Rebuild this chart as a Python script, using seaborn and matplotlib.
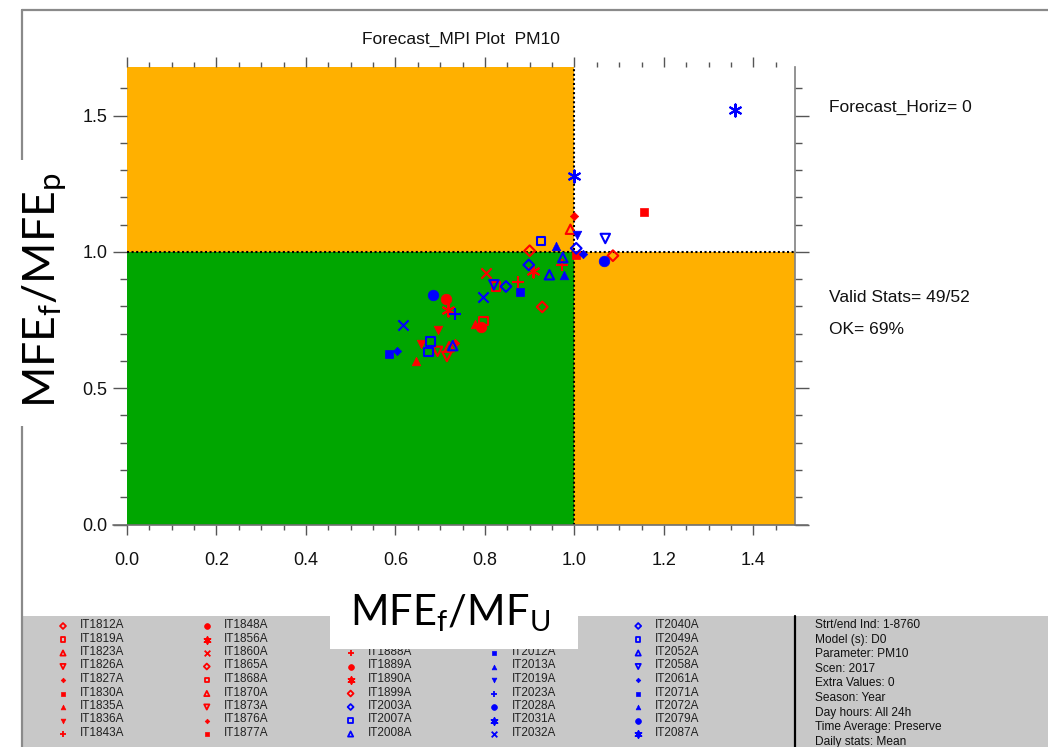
import numpy as np
import pandas as pd
import matplotlib
matplotlib.use("Agg")
import matplotlib.pyplot as plt
from matplotlib.ticker import MultipleLocator, FormatStrFormatter
from matplotlib.patches import Rectangle
from matplotlib.lines import Line2D
import seaborn as sns

# ---------------- data ----------------
TITLE = "Forecast_MPI Plot  PM10"
X_LABEL = r"$\mathrm{MFE_f/MF_U}$"
Y_LABEL = r"$\mathrm{MFE_f/MFE_p}$"
SIDE_TEXT = ["Forecast_Horiz= 0", "Valid Stats= 49/52", "OK= 69%"]

RED_X = [1.086, 0.900, 0.928, 0.825, 0.797, 0.991, 0.720, 0.694, 0.715,
         1.000, 0.732, 1.004, 1.155, 0.777, 0.645, 0.696, 0.658, 0.874,
         0.972, 0.714, 0.791, 0.907, 0.717, 0.802]
RED_Y = [0.986, 1.004, 0.798, 0.873, 0.747, 1.083, 0.652, 0.635, 0.616,
         1.133, 0.665, 0.989, 1.147, 0.735, 0.600, 0.715, 0.662, 0.891,
         0.952, 0.828, 0.725, 0.930, 0.787, 0.921]
RED_SYM = ["diamond_open"] * 3 + ["square_open"] * 2 + ["tri_open"] * 2 + \
          ["tridown_open"] * 2 + ["diamond"] * 2 + ["square"] * 2 + ["tri"] * 2 + \
          ["tridown"] * 2 + ["plus"] * 2 + ["circle"] * 2 + ["asterisk"] * 2 + ["x"]

BLUE_X = [1.004, 0.898, 0.847, 0.925, 0.678, 0.674, 0.974, 0.944, 0.728,
          1.069, 0.820, 1.020, 0.604, 0.878, 0.586, 0.958, 0.976, 1.006,
          0.732, 0.684, 1.067, 1.359, 1.000, 0.795, 0.616]
BLUE_Y = [1.013, 0.952, 0.873, 1.040, 0.671, 0.632, 0.979, 0.916, 0.656,
          1.049, 0.879, 0.993, 0.635, 0.852, 0.626, 1.022, 0.916, 1.062,
          0.771, 0.842, 0.968, 1.521, 1.277, 0.834, 0.731]
BLUE_SYM = ["diamond_open"] * 3 + ["square_open"] * 3 + ["tri_open"] * 3 + \
           ["tridown_open"] * 2 + ["diamond"] * 2 + ["square"] * 2 + ["tri"] * 2 + \
           ["tridown"] + ["plus"] + ["circle"] * 2 + ["asterisk"] * 2 + ["x"] * 2

# legend: column-major, 9 rows per column ('' = slot hidden under the x-label box)
LEG_NAMES = ["IT1812A", "IT1819A", "IT1823A", "IT1826A", "IT1827A", "IT1830A", "IT1835A", "IT1836A", "IT1843A",
             "IT1848A", "IT1856A", "IT1860A", "IT1865A", "IT1868A", "IT1870A", "IT1873A", "IT1876A", "IT1877A",
             "", "", "IT1888A", "IT1889A", "IT1890A", "IT1899A", "IT2003A", "IT2007A", "IT2008A",
             "", "", "IT2012A", "IT2013A", "IT2019A", "IT2023A", "IT2028A", "IT2031A", "IT2032A",
             "IT2040A", "IT2049A", "IT2052A", "IT2058A", "IT2061A", "IT2071A", "IT2072A", "IT2079A", "IT2087A"]
LEG_SYM = ["diamond_open", "square_open", "tri_open", "tridown_open", "diamond", "square", "tri", "tridown", "plus",
           "circle", "asterisk", "x", "diamond_open", "square_open", "tri_open", "tridown_open", "diamond", "square",
           "tri", "tridown", "plus", "circle", "asterisk", "diamond_open", "diamond_open", "square_open", "tri_open",
           "tridown_open", "diamond", "square", "tri", "tridown", "plus", "circle", "asterisk", "x",
           "diamond_open", "square_open", "tri_open", "tridown_open", "diamond", "square", "tri", "circle", "asterisk"]
LEG_GROUP = ["red"] * 24 + ["blue"] * 21

INFO = ["Strt/end Ind: 1-8760", "Model (s): D0", "Parameter: PM10", "Scen: 2017",
        "Extra Values: 0", "Season: Year", "Day hours: All 24h",
        "Time Average: Preserve", "Daily stats: Mean"]

# ---------------- style ----------------
COLORS = {"red": "#ff0000", "blue": "#0000ff"}
ORANGE = "#ffb000"
GREEN = "#00a600"
SYMBOLS = {  # marker, filled, size
    "diamond_open": ("D", False, 30),
    "square_open": ("s", False, 36),
    "tri_open": ("^", False, 46),
    "tridown_open": ("v", False, 46),
    "diamond": ("D", True, 18),
    "square": ("s", True, 28),
    "tri": ("^", True, 38),
    "tridown": ("v", True, 38),
    "plus": ("+", None, 64),
    "circle": ("o", True, 58),
    "asterisk": ((6, 2, 0), None, 75),
    "x": ("x", None, 55),
}

sns.set_theme(style="white")
plt.rcParams["font.family"] = ["Liberation Sans", "DejaVu Sans"]
plt.rcParams["mathtext.fontset"] = "custom"
plt.rcParams["mathtext.rm"] = "Lato"
plt.rcParams["mathtext.it"] = "Lato:italic"

W, H = 1048, 747
fig = plt.figure(figsize=(W / 100, H / 100), dpi=100)


def draw_symbols(ax, xs, ys, syms, color, scale=1.0, lw=1.5, z=4):
    df = pd.DataFrame({"x": xs, "y": ys, "sym": syms})
    for key, grp in df.groupby("sym", sort=False):
        marker, filled, size = SYMBOLS[key]
        kw = dict(marker=marker, s=size * scale, color=color, ax=ax, legend=False, zorder=z)
        if filled is True:
            kw.update(edgecolor=color, linewidth=0.5)
        elif filled is False:
            kw.update(facecolor="none", edgecolor=color, linewidth=lw)
        else:
            kw.update(linewidth=lw)
        sns.scatterplot(data=grp, x="x", y="y", **kw)


# ---------------- main axes ----------------
L, R, T, B = 127, 795, 67, 524.5
ax = fig.add_axes([L / W, 1 - B / H, (R - L) / W, (B - T) / H])
XMAX, YMAX = 1.493, 1.678
ax.add_patch(Rectangle((0, 0), 1, 1, color=GREEN, zorder=0, lw=0))
ax.add_patch(Rectangle((0, 1), 1, YMAX, color=ORANGE, zorder=0, lw=0))
ax.add_patch(Rectangle((1, 0), XMAX, 1, color=ORANGE, zorder=0, lw=0))
ax.axvline(1.0, color="black", ls=(0, (1, 1.2)), lw=1.5, zorder=2)
ax.axhline(1.0, color="black", ls=(0, (1, 1.2)), lw=1.5, zorder=2)

draw_symbols(ax, RED_X, RED_Y, RED_SYM, COLORS["red"])
draw_symbols(ax, BLUE_X, BLUE_Y, BLUE_SYM, COLORS["blue"])

ax.set_xlim(0, XMAX)
ax.set_ylim(0, YMAX)
ax.set_xlabel("")
ax.set_ylabel("")
for s in ["left", "top", "bottom"]:
    ax.spines[s].set_visible(False)
ax.spines["right"].set_color("#808080")
ax.spines["right"].set_linewidth(1.2)
ax.xaxis.set_major_locator(MultipleLocator(0.2))
ax.xaxis.set_minor_locator(MultipleLocator(0.05))
ax.yaxis.set_major_locator(MultipleLocator(0.5))
ax.yaxis.set_minor_locator(MultipleLocator(0.1))
ax.xaxis.set_major_formatter(FormatStrFormatter("%.1f"))
ax.yaxis.set_major_formatter(FormatStrFormatter("%.1f"))
ax.tick_params(axis="x", which="both", direction="out", bottom=True, top=True,
               labelbottom=True, labeltop=False, color="#555555", width=1,
               labelsize=13, labelcolor="#111111")
ax.tick_params(axis="x", which="major", length=7, pad=13)
ax.tick_params(axis="x", which="minor", length=3.8)
ax.tick_params(axis="y", which="both", direction="out", left=True, right=True,
               labelleft=True, labelright=False, color="#555555", width=1,
               labelsize=13, labelcolor="#111111")
ax.tick_params(axis="y", which="major", length=10, pad=4)
ax.tick_params(axis="y", which="minor", length=5)

# ---------------- overlay (pixel coordinates) ----------------
ov = fig.add_axes([0, 0, 1, 1], zorder=5)
ov.patch.set_alpha(0)

# bottom axis line
ov.add_line(Line2D([113, 808], [B, B], color="#707070", lw=1.2))
# outer frame
ov.add_line(Line2D([22, 22], [10, H], color="#8a8a8a", lw=1.6))
ov.add_line(Line2D([22, W], [10, 10], color="#8a8a8a", lw=1.6))
# legend panel
ov.add_patch(Rectangle((23, 616), W - 23, H - 616, color="#c8c8c8", lw=0, zorder=1))
ov.add_line(Line2D([795, 795], [616, H], color="black", lw=1.6, zorder=2))

# legend entries
rows = 9
leg_x, leg_y = [], []
for i, name in enumerate(LEG_NAMES):
    col, row = divmod(i, rows)
    leg_x.append(63 + col * 143.8)
    leg_y.append(626 + row * 13.5)
leg = pd.DataFrame({"x": leg_x, "y": leg_y, "name": LEG_NAMES, "sym": LEG_SYM, "grp": LEG_GROUP})
leg = leg[leg["name"] != ""]
for g, sub in leg.groupby("grp", sort=False):
    draw_symbols(ov, sub["x"].tolist(), sub["y"].tolist(), sub["sym"].tolist(),
                 COLORS[g], scale=0.3, lw=1.3, z=3)
for _, r in leg.iterrows():
    ov.text(r["x"] + 17, r["y"] - 1, r["name"], fontsize=8.5, color="#222222",
            ha="left", va="center", zorder=3)

for i, line in enumerate(INFO):
    ov.text(815, 625 + i * 14.6, line, fontsize=8.6, color="#111111",
            ha="left", va="center", zorder=3)

# axis labels with white boxes
ov.add_patch(Rectangle((330, 585), 248, 64, color="white", lw=0, zorder=6))
ov.text(450, 614, X_LABEL, fontsize=30, ha="center", va="center", color="black", zorder=7)
ov.add_patch(Rectangle((12, 160), 66, 266, color="white", lw=0, zorder=6))
ov.text(45, 290, Y_LABEL, fontsize=32, rotation=90, ha="center", va="center",
        color="black", zorder=7)

# title and side texts
ov.text(461, 39, TITLE, fontsize=12.5, ha="center", va="center", color="#111111")
for txt, yy in zip(SIDE_TEXT, [107, 298, 330]):
    ov.text(829, yy, txt, fontsize=12.5, ha="left", va="center", color="#111111")

ov.set_xlim(0, W)
ov.set_ylim(H, 0)
ov.axis("off")

fig.savefig("out.png", dpi=100)
